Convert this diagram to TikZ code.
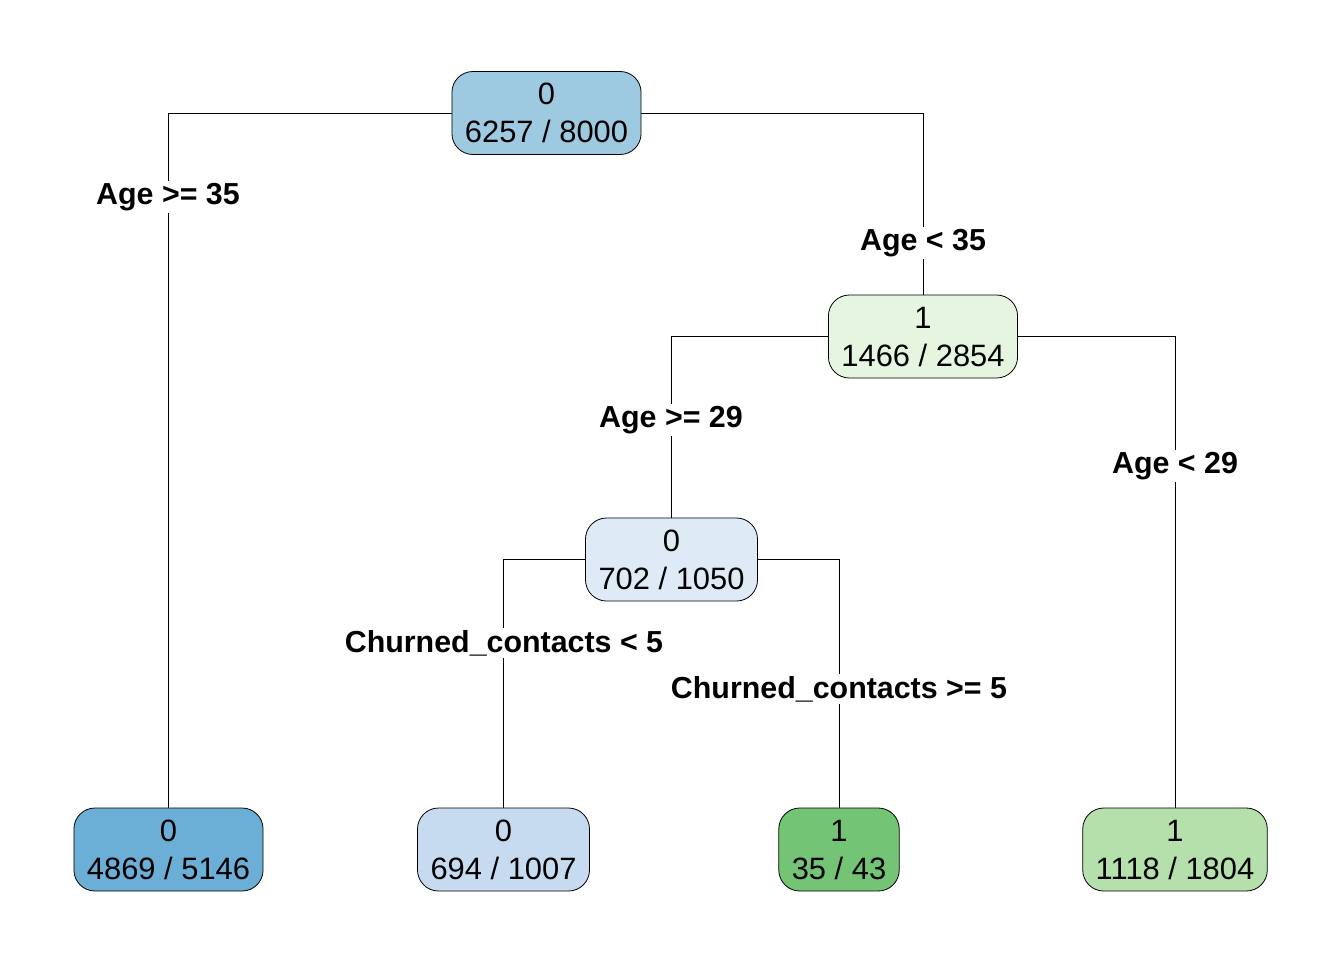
\documentclass[tikz,border=0pt]{standalone}
\usepackage{fontspec}
\setmainfont{Liberation Sans}
\usetikzlibrary{backgrounds}
\definecolor{cRoot}{HTML}{9ECAE1}
\definecolor{cA}{HTML}{E5F5E0}
\definecolor{cB}{HTML}{DEEBF7}
\definecolor{cL1}{HTML}{6BAED6}
\definecolor{cL2}{HTML}{C6DBEF}
\definecolor{cL3}{HTML}{74C476}
\definecolor{cL4}{HTML}{B5E0AB}
\tikzset{
  tree/.style={draw=black, line width=0.8bp, rounded corners=21bp, align=center,
    inner xsep=13bp, inner ysep=0pt, minimum height=83bp, text depth=-3bp,
    font=\fontsize{31}{38}\selectfont},
  split/.style={fill=white, inner sep=2bp, font=\fontsize{30.5}{36}\selectfont\bfseries},
  edge/.style={draw=black, line width=0.8bp}
}
\begin{document}
\begin{tikzpicture}[x=1bp, y=-1bp]
\useasboundingbox (0,0) rectangle (1344,960);
\node[tree, fill=cRoot] (root) at (546.5,113) {0\\6257 / 8000};
\node[tree, fill=cA] (n2) at (923,336.5) {1\\1466 / 2854};
\node[tree, fill=cB] (n3) at (671.5,559.5) {0\\702 / 1050};
\node[tree, fill=cL1] (l1) at (168.5,849.5) {0\\4869 / 5146};
\node[tree, fill=cL2] (l2) at (503.5,849.5) {0\\694 / 1007};
\node[tree, fill=cL3] (l3) at (839,849.5) {1\\35 / 43};
\node[tree, fill=cL4] (l4) at (1175,849.5) {1\\1118 / 1804};
\begin{scope}[on background layer]
\draw[edge] (root.west) -| (l1.north);
\draw[edge] (root.east) -| (n2.north);
\draw[edge] (n2.west) -| (n3.north);
\draw[edge] (n2.east) -| (l4.north);
\draw[edge] (n3.west) -| (l2.north);
\draw[edge] (n3.east) -| (l3.north);
\end{scope}
\node[split] (s1) at (168,197) {Age >= 35};
\node[split] (s2) at (923,243) {Age < 35};
\node[split] (s3) at (671,420) {Age >= 29};
\node[split] (s4) at (1175,466) {Age < 29};
\node[split] (s5) at (504,643) {Churned\_contacts < 5};
\node[split] (s6) at (839,689) {Churned\_contacts >= 5};
\end{tikzpicture}
\end{document}
